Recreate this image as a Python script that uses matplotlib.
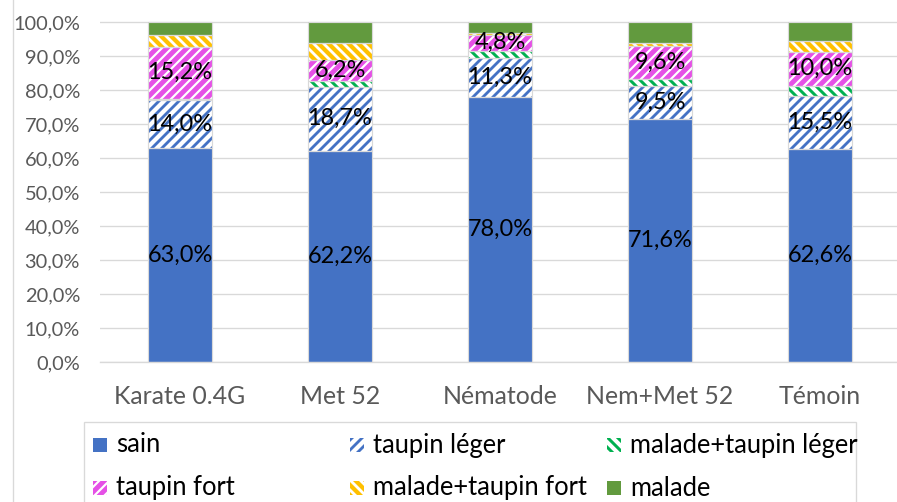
import numpy as np
import matplotlib
matplotlib.use("Agg")
import matplotlib.pyplot as plt
from matplotlib.patches import Rectangle
from matplotlib.lines import Line2D
from matplotlib.ticker import FuncFormatter

# data (percent of plants)
categories = ["Karate 0.4G", "Met 52", "Nématode", "Nem+Met 52", "Témoin"]
series_names = ["sain", "taupin léger", "malade+taupin léger",
                "taupin fort", "malade+taupin fort", "malade"]
sain = [63.0, 62.2, 78.0, 71.6, 62.6]
taupin_leger = [14.0, 18.7, 11.3, 9.5, 15.5]
malade_taupin_leger = [0.5, 1.7, 2.2, 2.2, 3.2]
taupin_fort = [15.2, 6.2, 4.8, 9.6, 10.0]
malade_taupin_fort = [3.4, 4.9, 0.6, 0.8, 3.1]
malade = [3.9, 6.3, 3.1, 6.3, 5.6]
labelled = ["sain", "taupin léger", "taupin fort"]  # series with value labels

values = [sain, taupin_leger, malade_taupin_leger, taupin_fort, malade_taupin_fort, malade]

# fill style per series: face colour, hatch, hatch colour, hatch width
styles = {
    "sain": ("#4472C4", None, None, 0),
    "taupin léger": ("white", "////", "#4472C4", 1.7),
    "malade+taupin léger": ("white", "\\\\\\\\", "#00B050", 1.8),
    "taupin fort": ("#E550E6", "////", "white", 1.3),
    "malade+taupin fort": ("#FFC000", "\\\\\\\\", "white", 1.7),
    "malade": ("#629A3E", None, None, 0),
}

W, H, DPI = 897, 502, 120
plt.rcParams["font.family"] = ["Lato", "DejaVu Sans"]
fig = plt.figure(figsize=(W / DPI, H / DPI), dpi=DPI)


def px(x, y):
    # pixel position (from top-left) -> figure fraction
    return x / W, 1 - y / H


def fill_rect(artist, style):
    face, hatch, hcol, hlw = style
    artist.set_facecolor(face)
    if hatch:
        artist.set_hatch(hatch)
        artist.set_edgecolor(hcol)
        if hasattr(artist, "set_hatch_linewidth"):
            artist.set_hatch_linewidth(hlw)
    else:
        artist.set_edgecolor(face)
    artist.set_linewidth(0)


ax = fig.add_axes([100 / W, 140 / H, 800 / W, 341 / H])
x = np.arange(len(categories))
bottom = np.zeros(len(categories))
for name, vals in zip(series_names, values):
    style = styles[name]
    with plt.rc_context({"hatch.linewidth": style[3] if style[3] else 1.0}):
        bars = ax.bar(x, vals, 0.4, bottom=bottom, zorder=2)
        for b in bars:
            fill_rect(b, style)
    # thin light border around each segment
    ax.bar(x, vals, 0.4, bottom=bottom, fill=False, edgecolor="#d9d9d9",
           linewidth=0.7, zorder=3)
    if name in labelled:
        ax.bar_label(bars, labels=[f"{v:.1f}".replace(".", ",") + "%" for v in vals],
                     label_type="center", fontsize=14.1, color="black", zorder=4)
    bottom += np.array(vals)

ax.set_xlim(-0.5, len(categories) - 0.5)
ax.set_ylim(0, 100.3)
ax.set_yticks(np.arange(0, 101, 10))
ax.yaxis.set_major_formatter(FuncFormatter(lambda v, p: f"{v:.1f}".replace(".", ",") + "%"))
ax.set_xticks(x)
ax.set_xticklabels(categories)
ax.tick_params(axis="y", length=0, pad=12, labelsize=12.0, labelcolor="#595959")
ax.tick_params(axis="x", length=0, pad=13.5, labelsize=14.9, labelcolor="#595959")
ax.grid(axis="y", color="#d9d9d9", linewidth=0.8, zorder=0)
ax.set_axisbelow(True)
for s in ["top", "right", "left"]:
    ax.spines[s].set_visible(False)
ax.spines["bottom"].set_color("#d9d9d9")
ax.spines["bottom"].set_linewidth(0.8)

# chart area border on the left
fig.add_artist(Line2D([13 / W, 13 / W], [0, 1], color="#d9d9d9", linewidth=0.8))

# legend drawn by hand: Excel puts the three columns at equal widths
fig.add_artist(Rectangle(px(84, 522), 772 / W, 100 / H, fill=False,
                         edgecolor="#d9d9d9", linewidth=0.8))
for i, name in enumerate(series_names):
    col, row = i % 3, i // 3
    x0 = 93 + 257 * col
    yc = 445 + 43 * row
    sq = Rectangle(px(x0, yc + 7), 14 / W, 14 / H)
    with plt.rc_context({"hatch.linewidth": styles[name][3] if styles[name][3] else 1.0}):
        fill_rect(sq, styles[name])
    fig.add_artist(sq)
    fx, fy = px(x0 + 23, yc)
    fig.text(fx, fy, name, fontsize=15.3, color="black", va="center", ha="left")

fig.savefig("out.png", dpi=DPI)
